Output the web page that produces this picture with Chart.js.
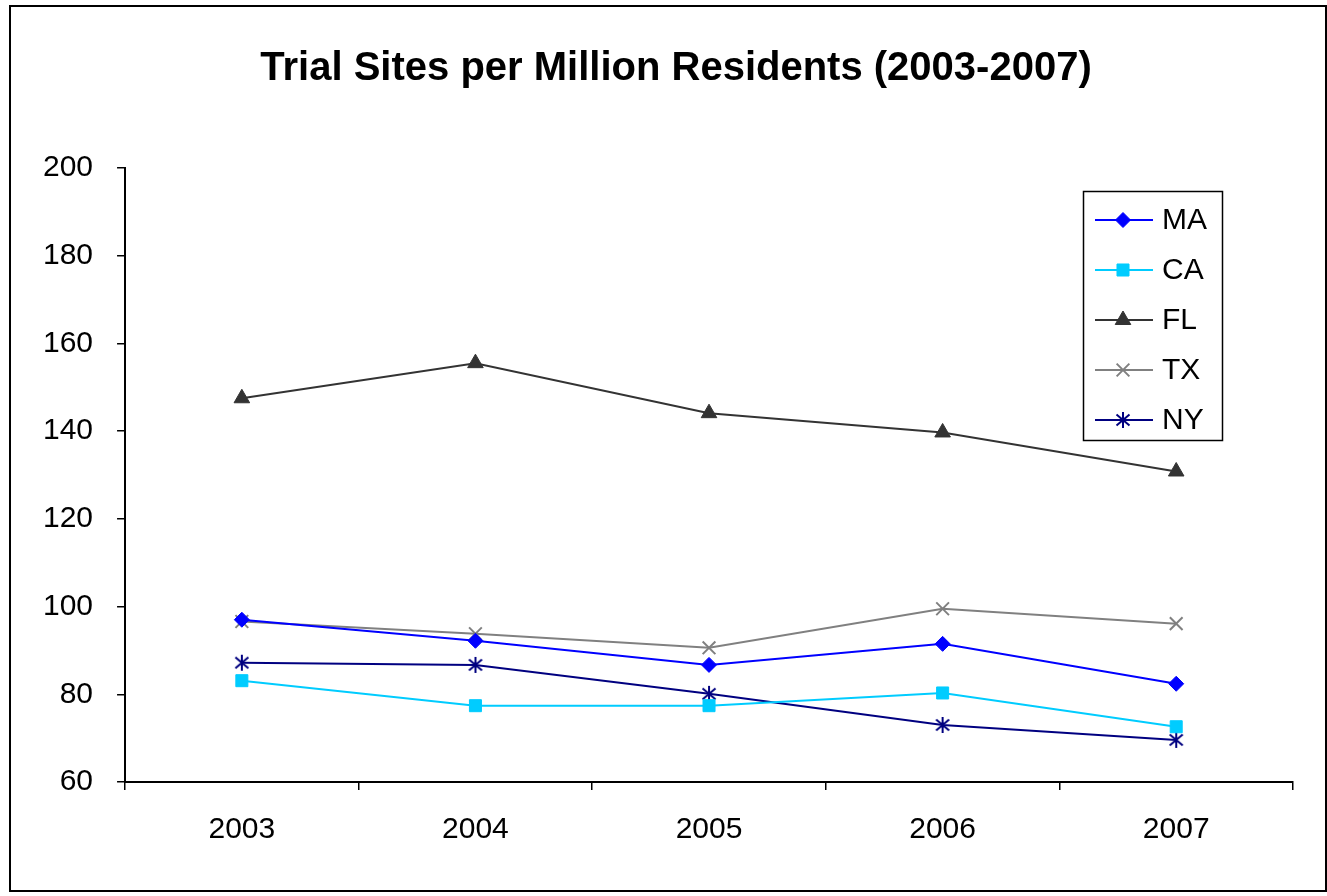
<!DOCTYPE html>
<html>
<head>
<meta charset="utf-8">
<script src="https://cdn.jsdelivr.net/npm/chart.js@4.4.0/dist/chart.umd.min.js"></script>
<style>
  html, body { margin: 0; padding: 0; background: #fff; }
  #wrap { width: 1327px; height: 896px; position: relative; }
</style>
</head>
<body>
<div id="wrap"><canvas id="chart" width="1327" height="896"></canvas></div>
<script>
// data
const years = ['2003', '2004', '2005', '2006', '2007'];
const maValues = [97.0, 92.2, 86.7, 91.5, 82.4];
const caValues = [83.1, 77.4, 77.4, 80.3, 72.6];
const flValues = [147.5, 155.5, 144.1, 139.7, 130.8];
const txValues = [96.6, 93.8, 90.6, 99.5, 96.1];
const nyValues = [87.2, 86.7, 80.1, 73.0, 69.6];
const yTicks = [60, 80, 100, 120, 140, 160, 180, 200];

const TITLE = 'Trial Sites per Million Residents (2003-2007)';
const FONT = 'Arial, "Liberation Sans", sans-serif';

// asterisk marker (vertical bar + X)
function asterisk(color) {
  const c = document.createElement('canvas');
  c.width = 20; c.height = 20;
  const g = c.getContext('2d');
  g.strokeStyle = color;
  g.lineWidth = 2;
  g.beginPath();
  g.moveTo(10, 2); g.lineTo(10, 18);
  g.moveTo(3.5, 4.5); g.lineTo(16.5, 15.5);
  g.moveTo(16.5, 4.5); g.lineTo(3.5, 15.5);
  g.stroke();
  return c;
}

function series(label, data, color, style, radius, borderW) {
  return {
    label, data,
    borderColor: color,
    backgroundColor: color,
    pointBackgroundColor: color,
    pointBorderColor: color,
    pointStyle: style,
    pointRadius: radius,
    pointHoverRadius: radius,
    pointBorderWidth: borderW,
    borderWidth: 2,
    tension: 0,
    fill: false
  };
}

const datasets = [
  series('MA', maValues, '#0000ff', 'rectRot', 7.5, 1),
  series('CA', caValues, '#00ccff', 'rect', 8.5, 1),
  series('FL', flValues, '#333333', 'triangle', 9, 1),
  series('TX', txValues, '#808080', 'crossRot', 9, 2),
  series('NY', nyValues, '#000080', asterisk('#000080'), 10, 1)
];

// title, outer frame and boxed legend inside the plot
const framePlugin = {
  id: 'frame',
  afterDraw(chart) {
    const ctx = chart.ctx;
    ctx.save();
    ctx.strokeStyle = '#000';
    ctx.lineWidth = 2;
    ctx.strokeRect(10, 6, 1316, 885);

    ctx.fillStyle = '#000';
    ctx.font = 'bold 40px ' + FONT;
    ctx.textAlign = 'center';
    ctx.textBaseline = 'middle';
    ctx.fillText(TITLE, 676, 69);

    const bx = 1083, by = 191, bw = 139, bh = 249;
    ctx.lineWidth = 1.5;
    ctx.strokeRect(bx + 0.5, by + 0.5, bw, bh);
    ctx.font = '30px ' + FONT;
    ctx.textAlign = 'left';
    chart.data.datasets.forEach((ds, i) => {
      const y = 220 + i * 50;
      ctx.strokeStyle = ds.borderColor;
      ctx.lineWidth = 2;
      ctx.beginPath();
      ctx.moveTo(1095, y);
      ctx.lineTo(1153, y);
      ctx.stroke();
      ctx.fillStyle = ds.pointBackgroundColor;
      ctx.strokeStyle = ds.pointBorderColor;
      ctx.lineWidth = ds.pointBorderWidth;
      Chart.helpers.drawPoint(ctx, {
        pointStyle: ds.pointStyle,
        radius: ds.pointRadius,
        rotation: 0,
        borderWidth: ds.pointBorderWidth
      }, 1123, y);
      ctx.fillStyle = '#000';
      ctx.fillText(ds.label, 1162, y + 1);
    });
    ctx.restore();
  }
};

new Chart(document.getElementById('chart').getContext('2d'), {
  type: 'line',
  data: { labels: years, datasets },
  options: {
    responsive: false,
    animation: false,
    devicePixelRatio: 1,
    layout: { padding: { left: 19, right: 34, top: 168, bottom: 26 } },
    plugins: {
      legend: { display: false },
      tooltip: { enabled: false },
      title: { display: false }
    },
    scales: {
      x: {
        offset: true,
        grid: { display: true, drawOnChartArea: false, drawTicks: true, tickLength: 8, offset: true, color: '#000', lineWidth: 1.5 },
        border: { display: true, color: '#000', width: 2 },
        ticks: { color: '#000', font: { family: FONT, size: 30 }, padding: 22, maxRotation: 0 }
      },
      y: {
        min: 60,
        max: 200,
        afterBuildTicks(scale) { scale.ticks = yTicks.map(v => ({ value: v })); },
        grid: { display: true, drawOnChartArea: false, drawTicks: true, tickLength: 8, color: '#000', lineWidth: 1.5 },
        border: { display: true, color: '#000', width: 2 },
        ticks: { color: '#000', font: { family: FONT, size: 30 }, padding: 24 }
      }
    }
  },
  plugins: [framePlugin]
});
</script>
</body>
</html>
